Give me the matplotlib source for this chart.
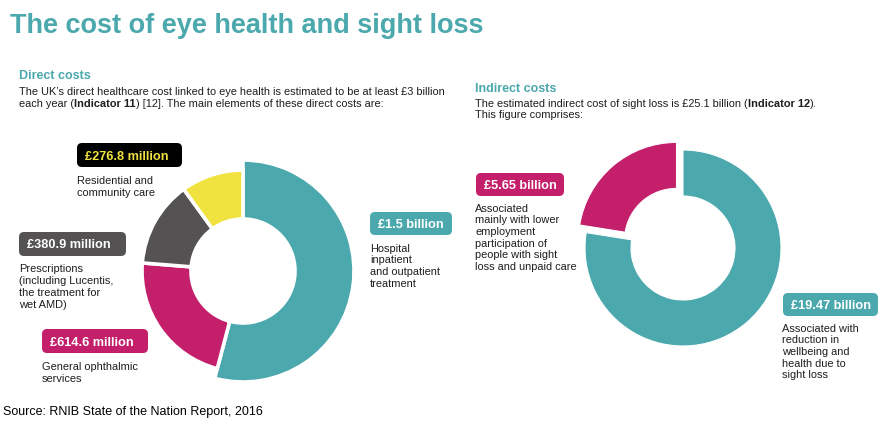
import matplotlib.pyplot as plt
from matplotlib.patches import FancyBboxPatch

plt.rcParams['font.family'] = ['Liberation Sans', 'DejaVu Sans']

TEAL = '#4ba8ad'
PINK = '#c31f6a'
GREY = '#545253'
YELLOW = '#f1e33f'
INK = '#1e1e1e'

# direct costs, in £ million
direct_labels = ['£1.5 billion', '£614.6 million', '£380.9 million', '£276.8 million']
direct_values = [1500, 614.6, 380.9, 276.8]
direct_colors = [TEAL, PINK, GREY, YELLOW]
direct_desc = ['Hospital\ninpatient\nand outpatient\ntreatment',
               'General ophthalmic\nservices',
               'Prescriptions\n(including Lucentis,\nthe treatment for\nwet AMD)',
               'Residential and\ncommunity care']

# indirect costs, in £ billion
indirect_labels = ['£19.47 billion', '£5.65 billion']
indirect_values = [19.47, 5.65]
indirect_colors = [TEAL, PINK]
indirect_desc = ['Associated with\nreduction in\nwellbeing and\nhealth due to\nsight loss',
                 'Associated\nmainly with lower\nemployment\nparticipation of\npeople with sight\nloss and unpaid care']

W, H = 882, 426
fig = plt.figure(figsize=(W / 100, H / 100), dpi=100)
ax = fig.add_axes([0, 0, 1, 1])


def Y(y):
    return H - y


# left donut: the big slice sticks out further than the others
lw = 2.6
big = ax.pie(direct_values, colors=direct_colors, startangle=90, counterclock=False,
             center=(243, Y(271)), radius=111,
             wedgeprops=dict(width=59, edgecolor='white', linewidth=lw))[0]
small = ax.pie(direct_values, colors=direct_colors, startangle=90, counterclock=False,
               center=(243, Y(271)), radius=101,
               wedgeprops=dict(width=49, edgecolor='white', linewidth=lw))[0]
for w in big[1:]:
    w.set_visible(False)
small[0].set_visible(False)

# right donut
ax.pie(indirect_values, colors=indirect_colors, startangle=90, counterclock=False,
       center=(683, Y(248)), radius=98, explode=[0, 10],
       wedgeprops=dict(width=46, edgecolor='white', linewidth=0.8))

ax.set_xlim(0, W)
ax.set_ylim(0, H)
ax.set_aspect('auto')
ax.axis('off')

r = fig.canvas.get_renderer()
BODY = 7.9


def rich_line(x, y, parts, size=BODY, color=INK):
    probe = ax.text(0, 0, '|', fontsize=size)
    bar = probe.get_window_extent(r).width
    probe.remove()
    for s, weight in parts:
        ax.text(x, Y(y), s, fontsize=size, fontweight=weight, color=color, va='baseline')
        t = ax.text(0, 0, s + '|', fontsize=size, fontweight=weight)
        x += t.get_window_extent(r).width - bar
        t.remove()


def tag(x0, x1, y0, y1, text, fc, tc='white'):
    box = FancyBboxPatch((x0, Y(y1)), x1 - x0, y1 - y0,
                         boxstyle='round,pad=0,rounding_size=5', fc=fc, ec='none')
    ax.add_patch(box)
    ax.text(x0 + 8, Y((y0 + y1) / 2), text, fontsize=9.2, fontweight='bold',
            color=tc, va='center_baseline')


def desc(x, y, text, step=12):
    for i, line in enumerate(text.split('\n')):
        ax.text(x, Y(y + i * step), line, fontsize=BODY, color=INK, va='baseline')


ax.text(10, Y(33), 'The cost of eye health and sight loss', fontsize=19.5,
        fontweight='bold', color=TEAL, va='baseline')

ax.text(19, Y(79), 'Direct costs', fontsize=9, fontweight='bold', color=TEAL, va='baseline')
rich_line(19, 95, [('The UK\u2019s direct healthcare cost linked to eye health is estimated to be at least £3 billion', 'normal')])
rich_line(19, 107, [('each year (', 'normal'), ('Indicator 11', 'bold'),
                    (') [12]. The main elements of these direct costs are:', 'normal')])

ax.text(475, Y(92), 'Indirect costs', fontsize=9, fontweight='bold', color=TEAL, va='baseline')
rich_line(475, 107, [('The estimated indirect cost of sight loss is £25.1 billion (', 'normal'),
                     ('Indicator 12', 'bold'), (').', 'normal')])
rich_line(475, 118.5, [('This figure comprises:', 'normal')])

# direct tags and descriptions
tag(370, 452, 212, 235, direct_labels[0], direct_colors[0])
desc(370, 251.5, direct_desc[0], 11.7)
tag(42, 148, 329, 353, direct_labels[1], direct_colors[1])
desc(42, 370, direct_desc[1])
tag(19, 126, 232, 256, direct_labels[2], direct_colors[2])
desc(19, 271.5, direct_desc[2], 12.2)
tag(77, 182, 143, 167, direct_labels[3], 'black', direct_colors[3])
desc(77, 183.5, direct_desc[3], 12.4)

# indirect tags and descriptions
tag(783, 878, 293, 316, indirect_labels[0], indirect_colors[0])
desc(782, 331.5, indirect_desc[0], 11.7)
tag(476, 564, 173, 196, indirect_labels[1], indirect_colors[1])
desc(475, 211.5, indirect_desc[1], 11.7)

ax.text(3, Y(415), 'Source: RNIB State of the Nation Report, 2016', fontsize=9,
        color='black', va='baseline')

fig.savefig('out.png', dpi=100, facecolor='white')
